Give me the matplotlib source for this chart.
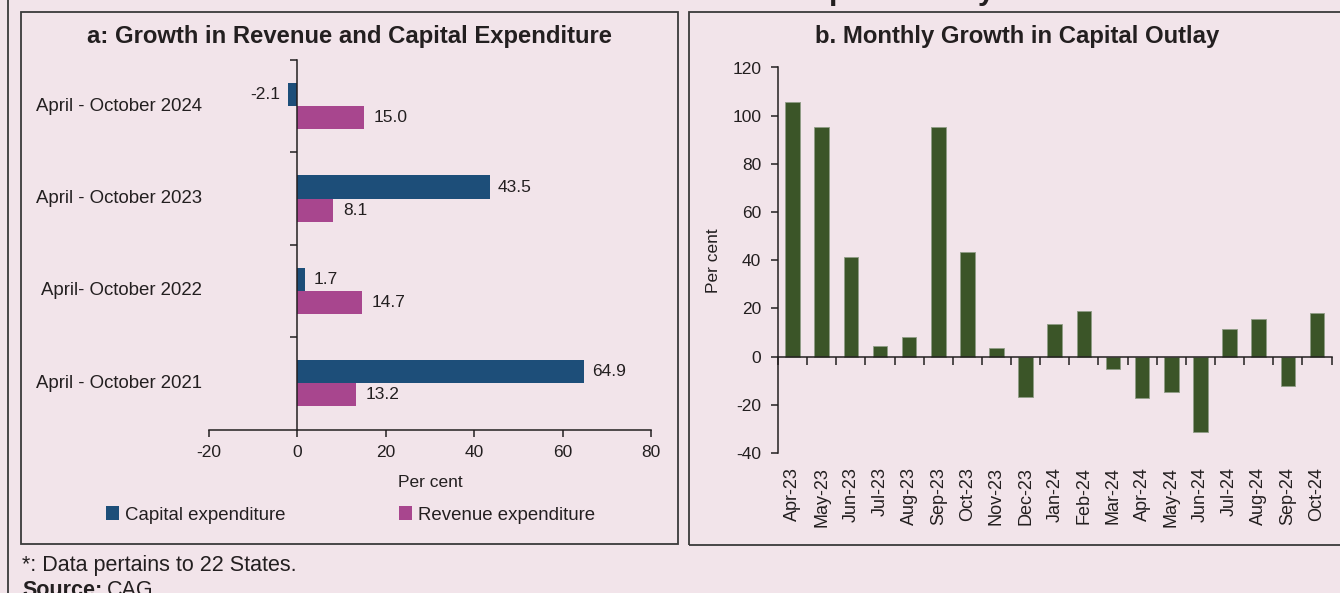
import matplotlib
matplotlib.use('Agg')
import matplotlib.pyplot as plt
import matplotlib.patches as patches
import matplotlib.transforms as mtransforms
import numpy as np

plt.rcParams['font.family'] = ['Liberation Sans', 'DejaVu Sans']
plt.rcParams['axes.unicode_minus'] = False

# ---- data ----
periods = ['April - October 2021', 'April- October 2022',
           'April - October 2023', 'April - October 2024']
capital = [64.9, 1.7, 43.5, -2.1]
revenue = [13.2, 14.7, 8.1, 15.0]

months = ['Apr-23', 'May-23', 'Jun-23', 'Jul-23', 'Aug-23', 'Sep-23', 'Oct-23',
          'Nov-23', 'Dec-23', 'Jan-24', 'Feb-24', 'Mar-24', 'Apr-24', 'May-24',
          'Jun-24', 'Jul-24', 'Aug-24', 'Sep-24', 'Oct-24']
growth = [105.6, 95.2, 41.4, 4.3, 8.2, 95.2, 43.4, 3.7, -16.7, 13.7, 18.8,
          -5.2, -17.3, -14.8, -31.1, 11.5, 15.6, -12.3, 18.3]

bg = '#F2E4EA'
blue = '#1D4E79'
magenta = '#A8468E'
green = '#3B5528'
ink = '#231F20'

W, H = 1340, 593
fig = plt.figure(figsize=(W / 100, H / 100), dpi=100, facecolor=bg)


def px(x0, y0, x1, y1):
    # pixel box -> figure fraction rect
    return [x0 / W, 1 - y1 / H, (x1 - x0) / W, (y1 - y0) / H]


# panel frames
for (x0, y0, x1, y1) in [(21, 12, 678, 544), (689, 12, 1350, 545)]:
    r = px(x0, y0, x1, y1)
    fig.add_artist(patches.Rectangle((r[0], r[1]), r[2], r[3], transform=fig.transFigure,
                                     fill=False, edgecolor='#3a3a3a', linewidth=1.3))
fig.add_artist(plt.Line2D([8 / W, 8 / W], [0, 1], transform=fig.transFigure,
                          color='#3a3a3a', linewidth=1.3))

# main chart title, cut off by the top edge
fig.text(790 / W, 1 + 1 / H, 'Capital Outlay', fontsize=22, fontweight='bold',
         color=ink, ha='left', va='baseline')

# ---------------- panel a ----------------
ax = fig.add_axes(px(209, 60, 651, 429.5))
ax.set_facecolor(bg)
y = np.arange(len(periods))
h = 0.25
b1 = ax.barh(y + h / 2, capital, height=h, color=blue, label='Capital expenditure')
b2 = ax.barh(y - h / 2, revenue, height=h, color=magenta, label='Revenue expenditure')
ax.bar_label(b1, fmt='%.1f', padding=6, fontsize=12.5, color=ink)
ax.bar_label(b2, fmt='%.1f', padding=7, fontsize=12.5, color=ink)

ax.set_xlim(-20, 80)
ax.set_ylim(-0.5, len(periods) - 0.5)
ax.set_xticks(range(-20, 81, 20))
ax.set_yticks(np.arange(len(periods)) + 0.5)
ax.set_yticklabels([])
ax.spines['left'].set_position(('data', 0))
ax.spines['top'].set_visible(False)
ax.spines['right'].set_visible(False)
for s in ['left', 'bottom']:
    ax.spines[s].set_color(ink)
    ax.spines[s].set_linewidth(1.1)
ax.tick_params(axis='x', direction='out', length=5, width=1.1, color=ink,
               labelsize=12.5, labelcolor=ink, pad=6)
ax.tick_params(axis='y', direction='out', length=5, width=1.1, color=ink)
tr = mtransforms.blended_transform_factory(ax.transAxes, ax.transData)
for yi, lab in zip(y, periods):
    ax.text(-0.016, yi, lab, transform=tr, ha='right', va='center',
            fontsize=13.4, color=ink)
ax.set_xlabel('Per cent', fontsize=12.5, color=ink, labelpad=11)
ax.legend(loc='center', bbox_to_anchor=(0.32, -0.2314), ncol=2, frameon=False,
          fontsize=13.4, handlelength=0.7, handleheight=0.7, handletextpad=0.35,
          columnspacing=6.06, labelcolor=ink)

fig.text(349.5 / W, 1 - 37 / H, 'a: Growth in Revenue and Capital Expenditure',
         fontsize=17.2, fontweight='bold', color=ink, ha='center', va='center')

# ---------------- panel b ----------------
bx = fig.add_axes(px(778, 67.5, 1331.5, 453))
bx.set_facecolor(bg)
x = np.arange(len(months))
bx.bar(x, growth, width=0.5, color=green, edgecolor='#8f9c86', linewidth=0.6)
bx.set_xlim(-0.5, len(months) - 0.5)
bx.set_ylim(-40, 120)
bx.set_yticks(range(-40, 121, 20))
bx.set_xticks(np.arange(len(months) + 1) - 0.5)
bx.set_xticklabels([])
bx.spines['bottom'].set_position(('data', 0))
bx.spines['top'].set_visible(False)
bx.spines['right'].set_visible(False)
for s in ['left', 'bottom']:
    bx.spines[s].set_color(ink)
    bx.spines[s].set_linewidth(1.1)
bx.tick_params(axis='y', direction='out', length=5, width=1.1, color=ink,
               labelsize=12.5, labelcolor=ink, pad=7)
bx.tick_params(axis='x', direction='out', length=6, width=1.1, color=ink)
trb = mtransforms.blended_transform_factory(bx.transData, bx.transAxes)
for xi, lab in zip(x, months):
    bx.text(xi, -0.036, lab, transform=trb, rotation=90, ha='center', va='top',
            fontsize=13, color=ink)
bx.set_ylabel('Per cent', fontsize=12.5, color=ink, labelpad=8)

fig.text(1017 / W, 1 - 37 / H, 'b. Monthly Growth in Capital Outlay',
         fontsize=17.2, fontweight='bold', color=ink, ha='center', va='center')

# ---------------- notes ----------------
fig.text(22 / W, 1 - 565 / H, '*: Data pertains to 22 States.', fontsize=15.5,
         color=ink, ha='left', va='center')
src = fig.text(22 / W, 1 - 580 / H, 'Source:', fontsize=15.5, fontweight='bold',
               color=ink, ha='left', va='top')
fig.text(107 / W, 1 - 580 / H, 'CAG.', fontsize=15.5, color=ink, ha='left', va='top')

fig.savefig('out.png', dpi=100, facecolor=bg)
